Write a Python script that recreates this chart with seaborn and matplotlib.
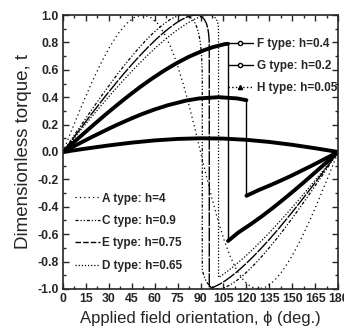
import seaborn as sns
import matplotlib.pyplot as plt
from matplotlib.lines import Line2D
from matplotlib.ticker import MultipleLocator

# --- data (phi in deg, t dimensionless) ---
a_phi = [0, 6.24, 12.45, 18.58, 24.61, 30.49, 36.21, 41.75, 47.07, 52.18, 57.07, 61.75,
         66.21, 70.49, 74.61, 78.58, 82.45, 86.24, 90, 93.76, 97.55, 101.42, 105.39,
         109.51, 113.79, 118.25, 122.93, 127.82, 132.93, 138.25, 143.79, 149.51, 155.39,
         161.42, 167.55, 173.76, 180]
a_t = [0, .174, .342, .5, .643, .766, .866, .940, .985, 1.0, .985, .940, .866, .766, .643,
       .5, .342, .174, 0, -.174, -.342, -.5, -.643, -.766, -.866, -.940, -.985, -1.0,
       -.985, -.940, -.866, -.766, -.643, -.5, -.342, -.174, 0]

c_phi = [0, 5.28, 10.54, 15.77, 20.95, 26.08, 31.13, 36.08, 40.92, 45.63, 50.19, 54.57,
         58.76, 62.73, 66.47, 69.95, 73.17, 76.1, 78.75, 81.1, 83.17, 84.95, 86.47, 87.73,
         88.76, 89.57, 90.19, 90.63, 90.92, 91.08, 91.13,
         91.13, 92.27, 93.53, 95.05, 96.83, 98.9, 101.25, 103.9, 106.83, 110.05, 113.53,
         117.27, 121.24, 125.43, 129.81, 134.37, 139.08, 143.92, 148.87, 153.92, 159.05,
         164.23, 169.46, 174.72, 180]
c_t = [0, .087, .174, .259, .342, .423, .5, .574, .643, .707, .766, .819, .866, .906, .940,
       .966, .985, .996, 1.0, .996, .985, .966, .940, .906, .866, .819, .766, .707, .643,
       .574, .5,
       -.862, -.906, -.940, -.966, -.985, -.996, -1.0, -.996, -.985, -.966, -.940, -.906,
       -.866, -.819, -.766, -.707, -.643, -.574, -.5, -.423, -.342, -.259, -.174, -.087, 0]

e_phi = [0, 5.83, 11.65, 17.44, 23.18, 28.86, 34.47, 39.98, 45.37, 50.63, 55.71, 60.6,
         65.26, 69.67, 73.79, 77.59, 81.03, 84.11, 86.81, 89.11, 91.03, 92.59, 93.79,
         94.67, 95.26, 95.6, 95.71,
         95.71, 98.97, 102.41, 106.21, 110.33, 114.74, 119.4, 124.29, 129.37, 134.63,
         140.02, 145.53, 151.14, 156.82, 162.56, 168.35, 174.17, 180]
e_t = [0, .087, .174, .259, .342, .423, .5, .574, .643, .707, .766, .819, .866, .906, .940,
       .966, .985, .996, 1.0, .996, .985, .966, .940, .906, .866, .819, .766,
       -.997, -.985, -.966, -.940, -.906, -.866, -.819, -.766, -.707, -.643, -.574, -.5,
       -.423, -.342, -.259, -.174, -.087, 0]

d_phi = [0, 6.35, 12.67, 18.98, 25.25, 31.47, 37.62, 43.68, 49.64, 55.45, 61.1, 66.56,
         71.77, 76.7, 81.29, 85.49, 89.24, 92.52, 95.28, 97.52, 99.24, 100.49, 101.29,
         101.7, 101.77,
         101.77, 103.3, 108.23, 113.44, 118.9, 124.55, 130.36, 136.32, 142.38, 148.53,
         154.75, 161.02, 167.33, 173.65, 180]
d_t = [0, .087, .174, .259, .342, .423, .5, .574, .643, .707, .766, .819, .866, .906, .940,
       .966, .985, .996, 1.0, .996, .985, .966, .940, .906, .866,
       -.917, -.906, -.866, -.819, -.766, -.707, -.643, -.574, -.5, -.423, -.342, -.259,
       -.174, -.087, 0]

f_phi_up = [0, 7.0, 14.02, 21.06, 28.15, 35.31, 42.56, 49.94, 57.48, 65.28, 73.46, 82.27,
            92.26, 98.2, 106.06, 108]
f_t_up = [0, .070, .139, .208, .276, .342, .407, .470, .530, .588, .643, .695, .743, .766,
          .788, .79]
f_phi_low = [108, 114.72, 122.52, 130.06, 137.44, 144.69, 151.85, 158.94, 165.98, 173, 180]
f_t_low = [-.65, -.588, -.530, -.470, -.407, -.342, -.276, -.208, -.139, -.070, 0]

g_phi_up = [0, 6.0, 12.05, 18.15, 24.37, 30.72, 37.32, 44.21, 51.55, 59.58, 68.76, 80.48,
            89.1, 101.78, 113.9, 120]
g_t_up = [0, .035, .070, .105, .139, .174, .208, .242, .276, .309, .342, .375, .391, .4,
          .391, .378]
g_phi_low = [120, 128.45, 135.79, 142.68, 149.28, 155.63, 161.85, 167.95, 174, 180]
g_t_low = [-.32, -.276, -.242, -.208, -.174, -.139, -.105, -.070, -.035, 0]

h_phi = [0, 15, 30, 45, 60, 75, 90, 105, 120, 135, 150, 165, 180]
h_t = [0, .0246, .0479, .0682, .0844, .0953, .0999, .0977, .0887, .0732, .0522, .0272, 0]

x_ticks = list(range(0, 181, 15))
y_ticks = [-1.0, -0.8, -0.6, -0.4, -0.2, 0.0, 0.2, 0.4, 0.6, 0.8, 1.0]

sns.set_style("ticks")
plt.rcParams['font.family'] = ['Liberation Sans', 'DejaVu Sans']
plt.rcParams['xtick.direction'] = 'in'
plt.rcParams['ytick.direction'] = 'in'

fig = plt.figure(figsize=(3.44, 3.34), dpi=100)
ax = fig.add_axes([0.183, 0.135, 0.8, 0.82])

ls_a = (0, (1, 2.5))
ls_c = (0, (2.5, 1.5, 1, 1.5, 1, 1.5))
ls_e = (0, (10, 1))
ls_d = (0, (1, 1.5))

def curve(x, y, lw, ls='-'):
    sns.lineplot(x=x, y=y, ax=ax, color='k', lw=lw, linestyle=ls,
                 sort=False, estimator=None, legend=False)

curve(a_phi, a_t, 0.9, ls_a)
curve(c_phi, c_t, 0.9, ls_c)
curve(e_phi, e_t, 1.0, ls_e)
curve(d_phi, d_t, 0.9, ls_d)

for up_x, up_y, lo_x, lo_y in [(f_phi_up, f_t_up, f_phi_low, f_t_low),
                               (g_phi_up, g_t_up, g_phi_low, g_t_low)]:
    curve(up_x, up_y, 2.8)
    curve(lo_x, lo_y, 2.8)
    curve([up_x[-1], lo_x[0]], [up_y[-1], lo_y[0]], 1.0)
curve(h_phi, h_t, 2.8)

ax.set_xlim(0, 180)
ax.set_ylim(-1.0, 1.0)
ax.set_xticks(x_ticks)
ax.set_yticks(y_ticks)
ax.set_yticklabels([f"{v:.1f}" for v in y_ticks])
ax.xaxis.set_minor_locator(MultipleLocator(7.5))
ax.yaxis.set_minor_locator(MultipleLocator(0.1))
ax.tick_params(which='both', top=True, right=True, width=1)
ax.tick_params(which='major', length=4, labelsize=8.8, pad=3)
ax.tick_params(which='minor', length=2)
for lab in ax.get_xticklabels() + ax.get_yticklabels():
    lab.set_fontweight('bold')
for sp in ax.spines.values():
    sp.set_linewidth(1.2)

ax.set_xlabel("Applied field orientation, \u03d5 (deg.)", fontsize=12, labelpad=4)
ax.set_ylabel("Dimensionless torque, t", fontsize=13.5, labelpad=4)

h1 = [Line2D([], [], color='k', lw=1, marker='o', ms=3, mfc='white'),
      Line2D([], [], color='k', lw=1, marker='o', ms=3, mfc='white'),
      Line2D([], [], color='k', lw=1, ls=':', marker='^', ms=3)]
leg1 = ax.legend(h1, ["F type: h=0.4", "G type: h=0.2", "H type: h=0.05"],
                 loc='upper left', bbox_to_anchor=(0.6, 0.915), frameon=False,
                 borderpad=0, borderaxespad=0, handlelength=2.1, handletextpad=0.35,
                 labelspacing=0.85, numpoints=1, prop={'size': 8.5, 'weight': 'bold'})
ax.add_artist(leg1)

h2 = [Line2D([], [], color='k', lw=0.9, ls=ls_a),
      Line2D([], [], color='k', lw=0.9, ls=ls_c),
      Line2D([], [], color='k', lw=1.0, ls=(0, (4, 1.5))),
      Line2D([], [], color='k', lw=0.9, ls=ls_d)]
ax.legend(h2, ["A type: h=4", "C type: h=0.9", "E type: h=0.75", "D type: h=0.65"],
          loc='upper left', bbox_to_anchor=(0.045, 0.352), frameon=False,
          borderpad=0, borderaxespad=0, handlelength=2.1, handletextpad=0.2,
          labelspacing=0.88, prop={'size': 8.5, 'weight': 'bold'})

plt.savefig("out.png", dpi=100)
